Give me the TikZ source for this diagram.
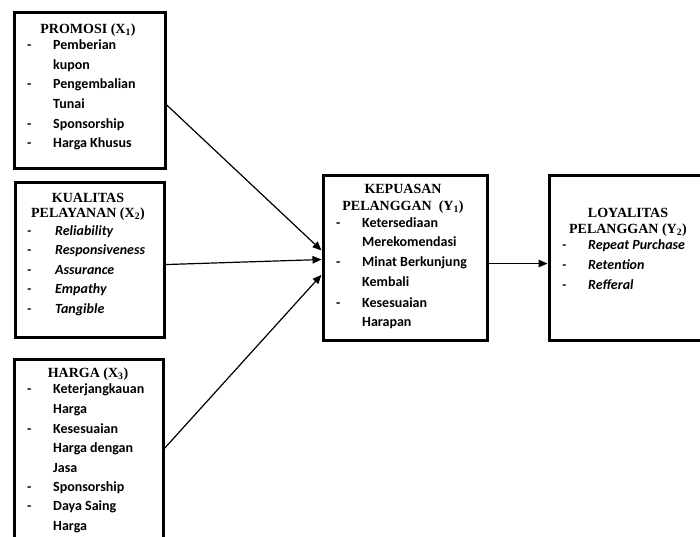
\documentclass[tikz,border=0pt]{standalone}
\usepackage{fontspec}
\setmainfont{Liberation Serif}
\newfontfamily\itemfont{Carlito}
\usetikzlibrary{calc, arrows.meta}

\newcommand{\itm}[1]{\makebox[26pt][l]{-}#1}

\begin{document}
\begin{tikzpicture}[x=1pt, y=-1pt,
  box/.style={draw, line width=3pt, anchor=north west, inner sep=0pt},
  head/.style={anchor=base, inner sep=0pt, font=\fontsize{14pt}{16pt}\selectfont\bfseries},
  entry/.style={anchor=base west, inner sep=0pt, font=\itemfont\fontsize{14pt}{16pt}\selectfont\bfseries},
  slant/.style={anchor=base west, inner sep=0pt, font=\itemfont\fontsize{14pt}{16pt}\selectfont\bfseries\itshape},
  link/.style={-{Triangle[length=9pt, width=7.5pt]}, line width=1.2pt}]
  \clip (0,0) rectangle (700,536);

  % X1
  \node[box, minimum width=151pt, minimum height=156pt] (promosi) at (12.5,10.5) {};
  \node[head] (promosiT) at (88,33) {PROMOSI (X\textsubscript{1})};
  \node[entry] (p1) at (27,49) {\itm{Pemberian}};
  \node[entry] (p1b) at (53,69) {kupon};
  \node[entry] (p2) at (27,88) {\itm{Pengembalian}};
  \node[entry] (p2b) at (53,108) {Tunai};
  \node[entry] (p3) at (27,128) {\itm{Sponsorship}};
  \node[entry] (p4) at (27,147) {\itm{Harga Khusus}};

  % X2
  \node[box, minimum width=149pt, minimum height=155pt] (kualitas) at (13.5,180.5) {};
  \node[head] (kualitasT) at (88,202) {KUALITAS};
  \node[head] (kualitasU) at (88,217) {PELAYANAN (X\textsubscript{2})};
  \node[slant] (k1) at (27,235) {\itm{\hspace{2pt}Reliability}};
  \node[slant] (k2) at (27,254) {\itm{\hspace{2pt}Responsiveness}};
  \node[slant] (k3) at (27,274) {\itm{\hspace{2pt}Assurance}};
  \node[slant] (k4) at (27,293) {\itm{\hspace{2pt}Empathy}};
  \node[slant] (k5) at (27,313) {\itm{\hspace{2pt}Tangible}};

  % X3
  \node[box, minimum width=149pt, minimum height=200pt] (harga) at (12.5,357.5) {};
  \node[head] (hargaT) at (88,377) {HARGA (X\textsubscript{3})};
  \node[entry] (h1) at (27,393) {\itm{Keterjangkauan}};
  \node[entry] (h1b) at (53,413) {Harga};
  \node[entry] (h2) at (27,433) {\itm{Kesesuaian}};
  \node[entry] (h2b) at (53,452) {Harga dengan};
  \node[entry] (h2c) at (53,472) {Jasa};
  \node[entry] (h3) at (27,491) {\itm{Sponsorship}};
  \node[entry] (h4) at (27,510) {\itm{Daya Saing}};
  \node[entry] (h4b) at (53,530) {Harga};

  % Y1
  \node[box, minimum width=164pt, minimum height=165pt] (kepuasan) at (321.5,173.5) {};
  \node[head] (kepuasanT) at (403,193) {KEPUASAN};
  \node[head] (kepuasanU) at (403,210) {PELANGGAN~~(Y\textsubscript{1})};
  \node[entry] (y1) at (336,227) {\itm{Ketersediaan}};
  \node[entry] (y1b) at (362,246) {Merekomendasi};
  \node[entry] (y2) at (336,266) {\itm{Minat Berkunjung}};
  \node[entry] (y2b) at (362,286) {Kembali};
  \node[entry] (y3) at (336,307) {\itm{Kesesuaian}};
  \node[entry] (y3b) at (362,326) {Harapan};

  % Y2
  \node[box, minimum width=162pt, minimum height=165pt] (loyalitas) at (547.5,173.5) {};
  \node[head] (loyalitasT) at (628,217) {LOYALITAS};
  \node[head] (loyalitasU) at (628,233) {PELANGGAN (Y\textsubscript{2})};
  \node[slant] (l1) at (562,249) {\itm{Repeat Purchase}};
  \node[slant] (l2) at (562,269) {\itm{Retention}};
  \node[slant] (l3) at (562,289) {\itm{Refferal}};

  \draw[link] ($(promosi.north east)!0.593!(promosi.south east)$) -- ($(kepuasan.north west)!0.458!(kepuasan.south west)$);
  \draw[link] ($(kualitas.north east)!0.532!(kualitas.south east)$) -- ($(kepuasan.north west)!0.512!(kepuasan.south west)$);
  \draw[link] ($(harga.north east)!0.4475!(harga.south east)$) -- ($(kepuasan.north west)!0.603!(kepuasan.south west)$);
  \draw[link] ($(kepuasan.north east)!0.536!(kepuasan.south east)$) -- ($(loyalitas.north west)!0.536!(loyalitas.south west)$);
\end{tikzpicture}
\end{document}
